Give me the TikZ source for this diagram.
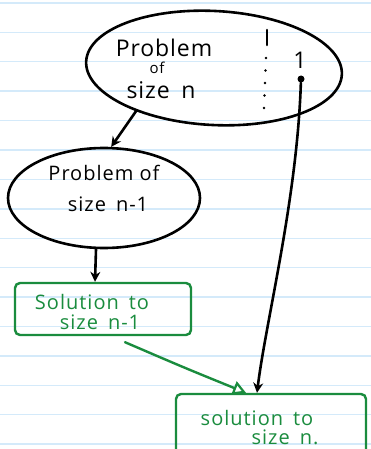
\documentclass[tikz,border=0pt]{standalone}
\usepackage{fontspec}
\setmainfont{Open Sans}
\usetikzlibrary{shapes.geometric,arrows.meta,calc}
\definecolor{ruled}{RGB}{212,234,250}
\definecolor{hgreen}{RGB}{26,140,62}
\begin{document}
\begin{tikzpicture}[x=1pt,y=-1pt,
  pen/.style={line width=2.6pt, black, line cap=round},
  gpen/.style={line width=2.4pt, hgreen, line cap=round},
  blob/.style={ellipse, draw, pen, inner sep=0pt},
  solbox/.style={draw, gpen, rounded corners=5pt, inner sep=0pt},
  bigtxt/.style={font=\fontsize{23}{26}\selectfont\addfontfeature{LetterSpace=4}, inner sep=0pt},
  smalltxt/.style={font=\fontsize{15}{17}\selectfont\addfontfeature{LetterSpace=5}, inner sep=0pt},
  midtxt/.style={font=\fontsize{20}{22}\selectfont\addfontfeature{LetterSpace=5}, inner sep=0pt},
  gtxt/.style={font=\fontsize{20}{22}\selectfont\addfontfeature{LetterSpace=5}, text=hgreen, inner sep=0pt},
  btip/.style={-{Stealth[length=10pt,width=10pt]}},
  gtip/.style={-{Triangle[open,length=13pt,width=14pt,line width=2.2pt]}}]
\useasboundingbox (0,0) rectangle (371,449);
\clip (0,0) rectangle (371,449);
\fill[white] (0,0) rectangle (371,449);
\foreach \k in {0,...,15} \draw[ruled, line width=1.4pt] (0,{3+29.4*\k}) -- (371,{3+29.4*\k});

% big problem
\node[blob, minimum width=256pt, minimum height=114pt, rotate=-3] (big) at (214,68) {};
\node[bigtxt] (p1) at (164,48) {Problem};
\node[smalltxt] (p2) at (157,68) {of};
\node[bigtxt] (p3) at (161,90) {size\enspace n};
\coordinate (d1) at (267,30);
\coordinate (d2) at (267,45);
\coordinate (d3) at (266,58);
\coordinate (d4) at (264,108);
\draw[pen] (d1) -- (d2);
\draw[line width=2.6pt, line cap=round, dash pattern=on 0.1pt off 12.4pt] (d3) -- (d4);
\node[bigtxt] (one) at (300,60) {1};
\node[circle, fill=black, minimum size=7pt, inner sep=0pt] (dot) at (301,79) {};

% small problem
\node[blob, minimum width=192pt, minimum height=100pt] (small) at (104,198) {};
\node[midtxt] (s1) at (104,173) {Problem of};
\node[midtxt] (s2) at (108,204) {size\enspace n-1};

% solution n-1
\node[solbox, minimum width=176pt, minimum height=52pt] (sol1) at (103,309) {};
\node[gtxt] (g1) at (92,302) {Solution\enspace to};
\node[gtxt] (g2) at (100,322) {size\enspace n-1};

% solution n
\node[solbox, minimum width=190pt, minimum height=64pt] (sol2) at (271,426) {};
\node[gtxt] (g3) at (257,418) {solution\enspace to};
\node[gtxt] (g4) at (285,437) {size\enspace n.};

% connectors
\draw[pen, btip] (big.212) -- (small.82);
\draw[pen, btip] ([xshift=-8pt]small.south) -- ([xshift=-8pt]sol1.north);
\draw[pen, btip] (dot) .. controls (297,200) and (266,320) .. ([xshift=-14pt]sol2.north);
\draw[gpen, gtip] ([xshift=22pt,yshift=-6pt]sol1.south) .. controls (185,368) .. ([xshift=-25pt]sol2.north);
\end{tikzpicture}
\end{document}
